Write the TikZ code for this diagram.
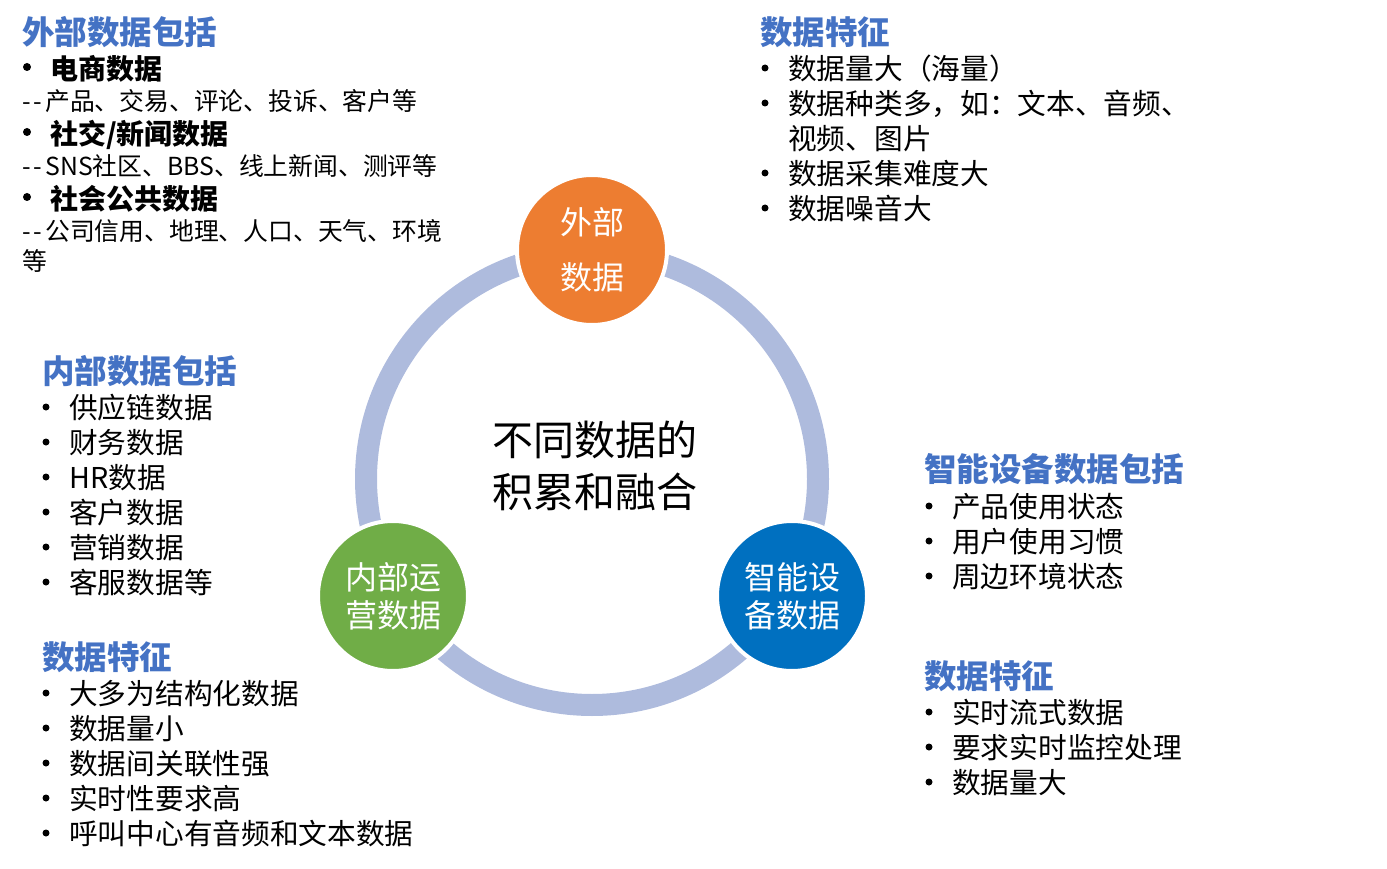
\documentclass[tikz,border=0pt]{standalone}
\usepackage{fontspec}
\setmainfont{Noto Sans CJK SC}
\definecolor{headblue}{HTML}{4472C4}
\definecolor{ringc}{HTML}{AEBBDD}
\definecolor{orangec}{HTML}{ED7D31}
\definecolor{greenc}{HTML}{70AD47}
\definecolor{bluec}{HTML}{0070C0}
\newcommand{\dd}{-\kern3pt-\kern3pt}
\tikzset{
  txt/.style={anchor=west, inner sep=0pt},
  head/.style={txt, text=headblue, font=\fontsize{32.5}{38}\selectfont\bfseries, text height=28.6pt, text depth=3.9pt},
  item/.style={txt, font=\fontsize{28.7}{33}\selectfont, text height=25.2pt, text depth=3.5pt},
  bitem/.style={txt, font=\fontsize{28}{33}\selectfont\bfseries, text height=24.6pt, text depth=3.4pt},
  sub/.style={txt, font=\fontsize{24.8}{30}\selectfont, text height=21.8pt, text depth=3pt},
  bul/.style={circle, fill=black, inner sep=0pt, minimum size=7pt},
  bbul/.style={circle, fill=black, inner sep=0pt, minimum size=8pt},
  hub/.style={circle, minimum size=150pt, inner sep=0pt, draw=white, line width=4pt, text=white, align=center},
}
\begin{document}
\begin{tikzpicture}[x=1pt,y=-1pt]
\useasboundingbox (0,0) rectangle (1387,869);
% ring
\draw[ringc, line width=22pt] (592,479) circle[radius=226];
% hubs
\node[hub, fill=orangec, font=\fontsize{32}{55}\selectfont] (ext) at (592,250) {外部\\数据};
\node[hub, fill=greenc, font=\fontsize{32}{38}\selectfont] (int) at (393,596) {内部运\\营数据};
\node[hub, fill=bluec, font=\fontsize{32}{38}\selectfont] (dev) at (792,596) {智能设\\备数据};
\node[align=left, inner sep=0pt, font=\fontsize{41}{52}\selectfont] (ctr) at (595,466) {不同数据的\\积累和融合};

% top-left
\node[head] (h1) at (22,32) {外部数据包括};
\node[bbul] (b11) at (27,67) {};
\node[bitem] (t11) at (50,69) {电商数据};
\node[sub] (s11) at (22,101) {\dd 产品、交易、评论、投诉、客户等};
\node[bbul] (b12) at (27,132) {};
\node[bitem] (t12) at (50,134) {社交/新闻数据};
\node[sub] (s12) at (22,166) {\dd SNS社区、BBS、线上新闻、测评等};
\node[bbul] (b13) at (27,197) {};
\node[bitem] (t13) at (50,199) {社会公共数据};
\node[sub] (s13) at (22,231) {\dd 公司信用、地理、人口、天气、环境};
\node[sub] (s14) at (22,261) {等};

% top-right
\node[head] (h2) at (760,32) {数据特征};
\node[bul] (b21) at (765,68) {};
\node[item] (t21) at (788,69) {数据量大（海量）};
\node[bul] (b22) at (765,103) {};
\node[item] (t22) at (788,104) {数据种类多，如：文本、音频、};
\node[item] (t23) at (788,139) {视频、图片};
\node[bul] (b24) at (765,173) {};
\node[item] (t24) at (788,174) {数据采集难度大};
\node[bul] (b25) at (765,208) {};
\node[item] (t25) at (788,209) {数据噪音大};

% left-middle
\node[head] (h3) at (42,371) {内部数据包括};
\foreach \y/\t [count=\i] in {408/供应链数据,443/财务数据,478/HR数据,513/客户数据,548/营销数据,583/客服数据等}{
  \node[bul] (b3\i) at (46,\y-1) {};
  \node[item] (t3\i) at (69,\y) {\t};
}

% left-lower
\node[head] (h4) at (42,657) {数据特征};
\foreach \y/\t [count=\i] in {694/大多为结构化数据,729/数据量小,764/数据间关联性强,799/实时性要求高,834/呼叫中心有音频和文本数据}{
  \node[bul] (b4\i) at (46,\y-1) {};
  \node[item] (t4\i) at (69,\y) {\t};
}

% right-middle
\node[head] (h5) at (924,469) {智能设备数据包括};
\foreach \y/\t [count=\i] in {507/产品使用状态,542/用户使用习惯,577/周边环境状态}{
  \node[bul] (b5\i) at (929,\y-1) {};
  \node[item] (t5\i) at (952,\y) {\t};
}

% right-lower
\node[head] (h6) at (924,676) {数据特征};
\foreach \y/\t [count=\i] in {713/实时流式数据,748/要求实时监控处理,783/数据量大}{
  \node[bul] (b6\i) at (929,\y-1) {};
  \node[item] (t6\i) at (952,\y) {\t};
}
\end{tikzpicture}
\end{document}
